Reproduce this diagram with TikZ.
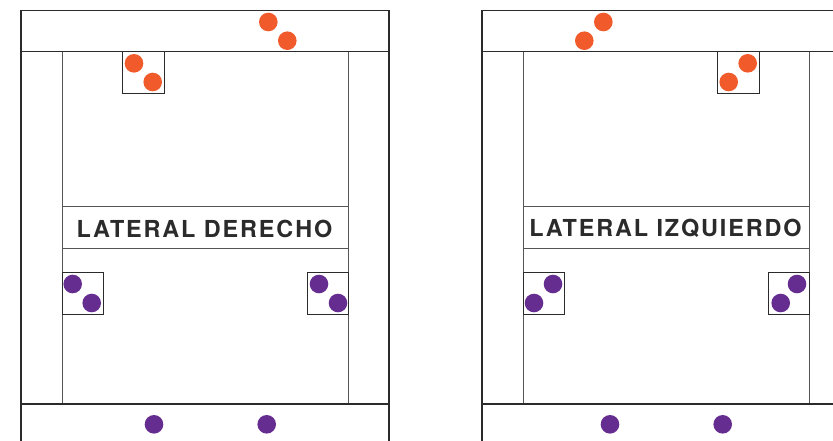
\documentclass[tikz,border=0pt]{standalone}
\usepackage{fontspec}
\newfontfamily\labelfont[LetterSpace=8]{TeX Gyre Heros}
\definecolor{dotorange}{HTML}{F15A2B}
\definecolor{dotpurple}{HTML}{662D91}
\definecolor{outerline}{HTML}{2B2B2B}
\definecolor{innerline}{HTML}{555555}
\tikzset{
  outerframe/.style={draw=outerline, line width=1.3pt},
  innerframe/.style={draw=innerline, line width=1pt},
  boxframe/.style={draw=outerline, line width=1pt},
  odot/.style={circle, fill=dotorange, minimum size=18.6pt, inner sep=0pt},
  pdot/.style={circle, fill=dotpurple, minimum size=18.6pt, inner sep=0pt},
  bandlabel/.style={font=\labelfont\bfseries\fontsize{23.4}{26}\selectfont, text=outerline, inner sep=0pt}
}
\begin{document}
\begin{tikzpicture}[x=1pt,y=-1pt]
\useasboundingbox (0,0) rectangle (833,440);
\clip (0,0) rectangle (833,440);
\fill[white] (0,0) rectangle (833,440);
% ---------- left diagram ----------
\draw[innerframe] (62,51.7) -- (62,404);
\draw[innerframe] (348.3,51.7) -- (348.3,404);
\draw[innerframe] (62,206.7) rectangle (348.3,248.7);
\draw[outerframe] (21,10.3) rectangle (389,470);
\draw[outerframe] (21,51.7) -- (389,51.7);
\draw[outerframe] (21,404) -- (389,404);
\draw[boxframe] (122.7,51.7) rectangle (164.3,93.3);
\draw[boxframe] (62,272.7) rectangle (103,314);
\draw[boxframe] (307.3,272.7) rectangle (348.3,314);
\node[bandlabel] (labL) at (204.5,228.5) {LATERAL DERECHO};
\node[odot] (lo1) at (268.3,22) {};
\node[odot] (lo2) at (287.3,40.7) {};
\node[odot] (lo3) at (134,63.3) {};
\node[odot] (lo4) at (152.7,82) {};
\node[pdot] (lp1) at (72.7,284) {};
\node[pdot] (lp2) at (91.7,303) {};
\node[pdot] (lp3) at (319,284) {};
\node[pdot] (lp4) at (338,303) {};
\node[pdot] (lp5) at (154,424.3) {};
\node[pdot] (lp6) at (266.7,424.3) {};
% ---------- right diagram ----------
\draw[innerframe] (523.3,51.7) -- (523.3,404);
\draw[innerframe] (809.7,51.7) -- (809.7,404);
\draw[innerframe] (523.3,206.7) rectangle (809.7,248.7);
\draw[outerframe] (482,10.3) rectangle (850,470);
\draw[outerframe] (482,51.7) -- (850,51.7);
\draw[outerframe] (482,404) -- (850,404);
\draw[boxframe] (717.7,51.7) rectangle (759.3,93.3);
\draw[boxframe] (523.3,272.7) rectangle (564.3,314);
\draw[boxframe] (768.7,272.7) rectangle (809.7,314);
\node[bandlabel] (labR) at (665.5,228.5) {LATERAL IZQUIERDO};
\node[odot] (ro1) at (603.3,22) {};
\node[odot] (ro2) at (584.3,40.7) {};
\node[odot] (ro3) at (747.7,63.3) {};
\node[odot] (ro4) at (728.7,82) {};
\node[pdot] (rp1) at (553,284) {};
\node[pdot] (rp2) at (534,303) {};
\node[pdot] (rp3) at (797,284) {};
\node[pdot] (rp4) at (780.7,303) {};
\node[pdot] (rp5) at (610,424.3) {};
\node[pdot] (rp6) at (722.7,424.3) {};
\end{tikzpicture}
\end{document}
